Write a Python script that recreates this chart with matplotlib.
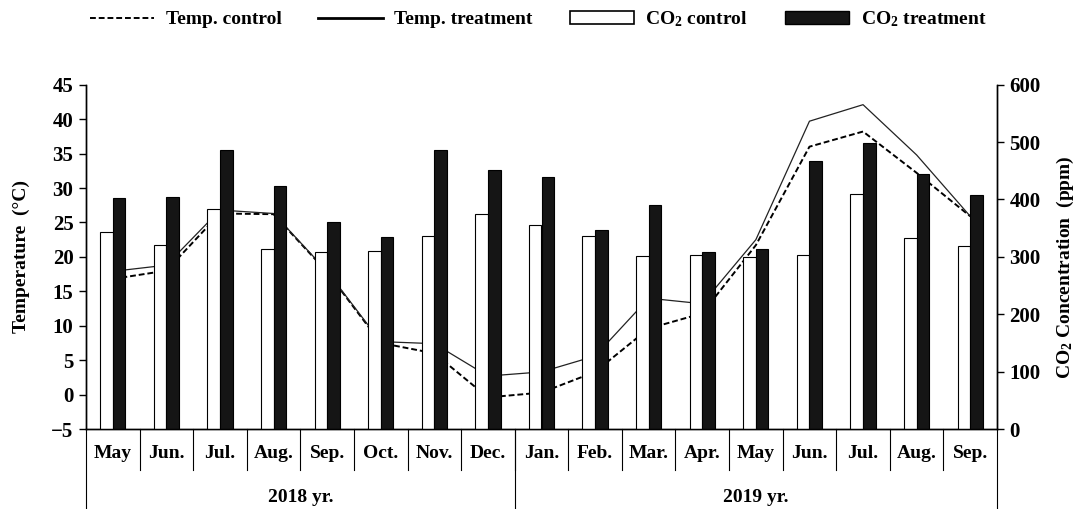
import numpy as np
import matplotlib
matplotlib.use("Agg")
import matplotlib.pyplot as plt
from matplotlib.lines import Line2D
from matplotlib.patches import Patch

#------------------------------------
# Data
#------------------------------------

months = ['May', 'Jun.', 'Jul.', 'Aug.', 'Sep.', 'Oct.', 'Nov.', 'Dec.',
          'Jan.', 'Feb.', 'Mar.', 'Apr.', 'May', 'Jun.', 'Jul.', 'Aug.', 'Sep.']
years = ['2018 yr.', '2019 yr.']
year_len = [8, 9]

temp_ctrl = [16.8, 18.0, 26.3, 26.2, 17.8, 7.5, 6.0, -0.4, 0.3, 3.3,
             9.6, 11.8, 21.7, 36.0, 38.2, 32.2, 25.9]
temp_trt = [17.9, 18.8, 26.8, 26.3, 17.9, 7.7, 7.4, 2.7, 3.3, 5.6,
            14.0, 13.2, 22.5, 39.7, 42.1, 34.8, 25.9]

co2_ctrl = [343, 321, 383, 314, 308, 311, 336, 375, 356, 337,
            302, 304, 300, 304, 409, 333, 319]
co2_trt = [402, 405, 486, 423, 361, 334, 486, 452, 439, 346,
           390, 309, 314, 467, 499, 444, 407]

#------------------------------------
# Style
#------------------------------------

plt.rcParams['font.family'] = ['Liberation Serif', 'DejaVu Serif']
plt.rcParams['font.weight'] = 'bold'
plt.rcParams['axes.labelweight'] = 'bold'
plt.rcParams['mathtext.fontset'] = 'custom'
plt.rcParams['mathtext.rm'] = 'Liberation Serif:bold'
plt.rcParams['mathtext.it'] = 'Liberation Serif:bold'

fs_tick = 15
fs_lab = 14

x = np.arange(len(months))
w = 0.235

fig = plt.figure(figsize=(10.83, 5.09), dpi=100)
ax = fig.add_axes([0.0794, 0.157, 0.8412, 0.6766])
ax2 = ax.twinx()

# temperature lines (left axis, drawn behind the bars)
ax.plot(x, temp_ctrl, color='black', lw=1.4, ls=(0, (3, 1.5)))
ax.plot(x, temp_trt, color='#222222', lw=0.9)

# CO2 bars (right axis)
ax2.bar(x - w / 2, co2_ctrl, w, color='white', edgecolor='black', lw=0.8)
ax2.bar(x + w / 2, co2_trt, w, color='#151515', edgecolor='black', lw=0.8)

ax.set_xlim(-0.5, len(months) - 0.5)
ax.set_ylim(-5, 45)
ax.set_yticks(np.arange(-5, 46, 5))
ax2.set_ylim(0, 600)
ax2.set_yticks(np.arange(0, 601, 100))
ax.set_xticks([])

for a in (ax, ax2):
    a.spines['top'].set_visible(False)
    for s in a.spines.values():
        s.set_linewidth(1.0)
ax.tick_params(axis='y', direction='out', length=5, width=1.0, pad=4, labelsize=fs_tick)
ax2.tick_params(axis='y', direction='out', length=5, width=1.0, pad=4, labelsize=fs_tick)

ax.set_ylabel('Temperature  (°C)', fontsize=fs_lab)
ax.yaxis.set_label_coords(-0.062, 0.5)
ax2.set_ylabel('CO$_2$ Concentration  (ppm)', fontsize=fs_lab)
ax2.yaxis.set_label_coords(1.064, 0.47)

# month labels and separators below the axis
trans = ax.get_xaxis_transform()
for i, m in enumerate(months):
    ax.text(i, -0.07, m, transform=trans, ha='center', va='center', fontsize=fs_lab)
for i in range(1, len(months)):
    ax.plot([i - 0.5, i - 0.5], [0, -0.12], transform=trans, color='black',
            lw=0.8, clip_on=False)

# year labels and separators
edges = np.concatenate([[0], np.cumsum(year_len)]) - 0.5
for k, yname in enumerate(years):
    ax.text((edges[k] + edges[k + 1]) / 2, -0.198, yname, transform=trans,
            ha='center', va='center', fontsize=fs_lab)
for e in edges:
    ax.plot([e, e], [0, -0.235], transform=trans, color='black', lw=0.8,
            clip_on=False)

# legend
handles = [Line2D([], [], color='black', lw=1.4, ls=(0, (3, 1.5))),
           Line2D([], [], color='black', lw=2.0),
           Patch(facecolor='white', edgecolor='black', lw=1.2),
           Patch(facecolor='#151515', edgecolor='black')]
labels = ['Temp. control', 'Temp. treatment', 'CO$_2$ control', 'CO$_2$ treatment']
fig.legend(handles, labels, loc='center', bbox_to_anchor=(0.497, 0.962), ncol=4,
           frameon=False, fontsize=fs_lab, handlelength=3.3, handleheight=0.6,
           handletextpad=0.6, columnspacing=1.9)

fig.savefig('out.png', dpi=100)
